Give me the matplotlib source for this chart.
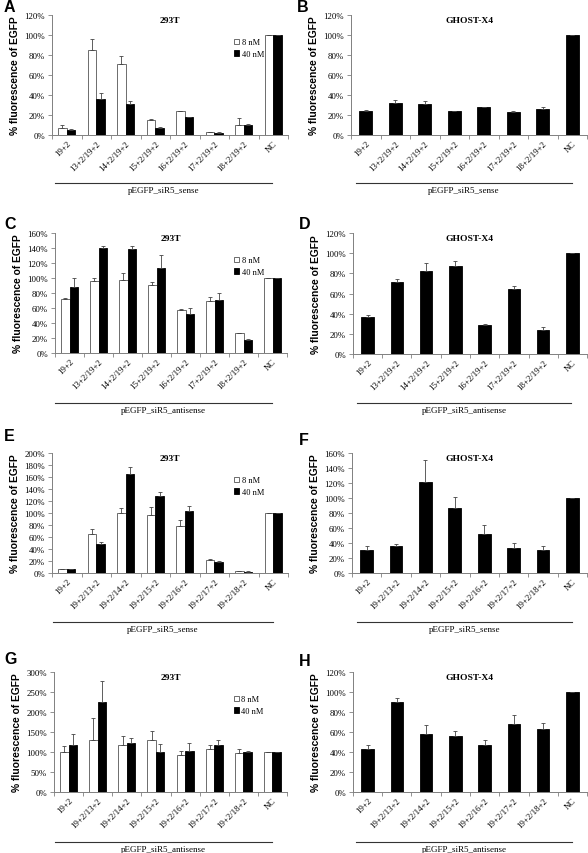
import numpy as np
import matplotlib
matplotlib.use("Agg")
import matplotlib.pyplot as plt
from matplotlib.ticker import FuncFormatter, MultipleLocator

# category labels
cats_sense = ["19+2", "13+2/19+2", "14+2/19+2", "15+2/19+2", "16+2/19+2",
              "17+2/19+2", "18+2/19+2", "NC"]
cats_anti = ["19+2", "19+2/13+2", "19+2/14+2", "19+2/15+2", "19+2/16+2",
             "19+2/17+2", "19+2/18+2", "NC"]

# A: 293T, pEGFP_siR5_sense
a_8 = [7, 85, 71, 15, 24, 3, 10, 100]
a_8_err = [3, 11, 8.5, 1.5, 0.5, 0.5, 7, 0]
a_40 = [5, 36.5, 31, 7, 18, 2.5, 10.5, 100]
a_40_err = [1.5, 5.5, 3.5, 1.5, 0.5, 0.3, 0.5, 0]

# B: GHOST-X4, pEGFP_siR5_sense
b_val = [24.5, 32.5, 31, 24.3, 28, 23.3, 26.3]
b_err = [1, 3, 3.5, 0, 0.5, 1, 1.5]

# C: 293T, pEGFP_siR5_antisense
c_8 = [72, 96, 97.8, 90.7, 57.8, 69.3, 26.2, 100]
c_8_err = [1.3, 3.6, 9, 4, 1, 5.4, 0.5, 0]
c_40 = [87.6, 139.6, 138.7, 114, 52.4, 71, 17.3, 100]
c_40_err = [12, 3, 4, 17, 7.6, 9, 1.4, 0]

# D: GHOST-X4, pEGFP_siR5_antisense
d_val = [36.4, 71.2, 82.5, 87, 28.8, 64, 23.8]
d_err = [2, 3, 7.5, 5.4, 1, 3, 3]

# E: 293T, pEGFP_siR5_sense (3' variants)
e_8 = [6, 65, 100, 96.7, 77.8, 21, 2.8, 100]
e_8_err = [0.5, 7.8, 7.8, 13.3, 10.5, 2.3, 0.5, 0]
e_40 = [6, 49, 165.6, 128.3, 103.3, 17.8, 2.2, 100]
e_40_err = [0.5, 2.7, 11, 6.7, 8.7, 2.8, 0.5, 0]

# F: GHOST-X4, pEGFP_siR5_sense (3' variants)
f_val = [30.7, 35.5, 121.3, 86.2, 52, 33.3, 30.7]
f_err = [4.8, 3.2, 29.4, 15.1, 11.5, 7.1, 5.3]

# G: 293T, pEGFP_siR5_antisense (3' variants)
g_8 = [100, 130, 118.3, 130, 91.7, 108.3, 96.7, 100]
g_8_err = [15, 55, 21.7, 22.5, 10, 10, 10, 0]
g_40 = [117.5, 225.8, 121.7, 100.8, 101.7, 118.3, 99.2, 100]
g_40_err = [28.3, 50.9, 14.1, 18.2, 21.6, 11.7, 4.1, 0]

# H: GHOST-X4, pEGFP_siR5_antisense (3' variants)
h_val = [43, 90.3, 58.3, 56, 47, 68, 63]
h_err = [4, 4, 8.7, 5, 5.3, 9, 6]

FIG_W, FIG_H = 588, 854
SERIF = ["Liberation Serif", "DejaVu Serif"]
SANS = ["Liberation Sans", "DejaVu Sans"]
AXIS_GRAY = "#808080"
TICK_FS = 6.3


def px_axes(fig, left, right, top, bottom):
    return fig.add_axes([left / FIG_W, 1 - bottom / FIG_H,
                         (right - left) / FIG_W, (bottom - top) / FIG_H])


def setup_axis(ax, cats, ymax, step):
    n = len(cats)
    ax.set_xlim(-0.5, n - 0.5)
    ax.set_ylim(0, ymax)
    ax.yaxis.set_major_locator(MultipleLocator(step))
    ax.yaxis.set_major_formatter(FuncFormatter(lambda v, p: f"{v:.0f}%"))
    ax.set_xticks(np.arange(n))
    ax.set_xticklabels(cats, rotation=45, ha="right", rotation_mode="anchor",
                       fontfamily=SERIF, fontsize=TICK_FS)
    ax.tick_params(axis="x", length=0, pad=3)
    # Excel style tick marks between categories
    ax.set_xticks(np.arange(n + 1) - 0.5, minor=True)
    ax.tick_params(axis="x", which="minor", length=3, color=AXIS_GRAY, width=0.6)
    ax.tick_params(axis="y", length=3, color=AXIS_GRAY, width=0.6, pad=2,
                   labelsize=TICK_FS)
    for lab in ax.get_yticklabels():
        lab.set_fontfamily(SERIF)
    for s in ["top", "right"]:
        ax.spines[s].set_visible(False)
    for s in ["left", "bottom"]:
        ax.spines[s].set_color(AXIS_GRAY)
        ax.spines[s].set_linewidth(0.7)
    ax.set_ylabel("% fluorescence of EGFP", fontfamily=SANS, fontweight="bold",
                  fontsize=7.4, labelpad=3)


def group_line(fig, x0, x1, y, text):
    fig.add_artist(plt.Line2D([x0 / FIG_W, x1 / FIG_W], [1 - y / FIG_H, 1 - y / FIG_H],
                              color="#333333", linewidth=0.8))
    fig.text((x0 + x1) / 2 / FIG_W, 1 - (y + 3) / FIG_H, text, ha="center", va="top",
             fontfamily=SERIF, fontsize=6.5)


def panel_letter(fig, letter, lpos):
    fig.text(lpos[0] / FIG_W, 1 - lpos[1] / FIG_H, letter, fontfamily=SANS,
             fontweight="bold", fontsize=11.5, va="top", ha="left")


def pair_panel(fig, box, cats, v8, e8, v40, e40, ymax, step, letter, lpos, line):
    ax = px_axes(fig, *box)
    x = np.arange(len(cats))
    w = 0.29
    ekw = dict(ecolor="#444444", elinewidth=0.6, capsize=1.5, capthick=0.6)
    ax.bar(x - w / 2, v8, w, color="white", edgecolor="#555555", linewidth=0.6,
           yerr=[np.zeros(len(e8)), e8], error_kw=ekw, label="8 nM")
    ax.bar(x + w / 2, v40, w, color="black", edgecolor="black", linewidth=0.6,
           yerr=[np.zeros(len(e40)), e40], error_kw=ekw, label="40 nM")
    setup_axis(ax, cats, ymax, step)
    ax.set_title("293T", fontfamily=SERIF, fontweight="bold", fontsize=6.8, pad=-5,
                 y=1.0)
    ax.legend(loc="upper left", bbox_to_anchor=(0.74, 0.87), frameon=False,
              prop={"family": SERIF, "size": 6}, handlelength=0.6,
              handleheight=0.6, handletextpad=0.3, labelspacing=0.45)
    panel_letter(fig, letter, lpos)
    group_line(fig, *line)
    return ax


def single_panel(fig, box, cats, vals, errs, ymax, step, letter, lpos, line):
    ax = px_axes(fig, *box)
    x = np.arange(len(cats))
    v = vals + [100]
    e = errs + [0]
    ax.bar(x, v, 0.43, color="black", edgecolor="black", linewidth=0.6,
           yerr=[np.zeros(len(e)), e],
           error_kw=dict(ecolor="#444444", elinewidth=0.6, capsize=1.5, capthick=0.6))
    setup_axis(ax, cats, ymax, step)
    ax.set_title("GHOST-X4", fontfamily=SERIF, fontweight="bold", fontsize=6.8,
                 pad=-5, y=1.0)
    panel_letter(fig, letter, lpos)
    group_line(fig, *line)
    return ax


fig = plt.figure(figsize=(FIG_W / 100, FIG_H / 100), dpi=100)

pair_panel(fig, (52, 288, 16, 136), cats_sense, a_8, a_8_err, a_40, a_40_err,
           120, 20, "A", (4, 0), (55, 272, 184, "pEGFP_siR5_sense"))
single_panel(fig, (351, 587, 16, 136), cats_sense, b_val, b_err, 120, 20,
             "B", (297, 0), (356, 572, 184, "pEGFP_siR5_sense"))

pair_panel(fig, (55, 287, 234, 354), cats_sense, c_8, c_8_err, c_40, c_40_err,
           160, 20, "C", (4, 217), (55, 272, 404, "pEGFP_siR5_antisense"))
single_panel(fig, (353, 587, 234, 355), cats_sense, d_val, d_err, 120, 20,
             "D", (299, 217), (357, 571, 404, "pEGFP_siR5_antisense"))

pair_panel(fig, (52, 288, 454, 574), cats_anti, e_8, e_8_err, e_40, e_40_err,
           200, 20, "E", (4, 429), (53, 273, 623, "pEGFP_siR5_sense"))
single_panel(fig, (352, 587, 454, 574), cats_anti, f_val, f_err, 160, 20,
             "F", (299, 433), (357, 572, 623, "pEGFP_siR5_sense"))

pair_panel(fig, (54, 287, 673, 793), cats_anti, g_8, g_8_err, g_40, g_40_err,
           300, 50, "G", (4, 652), (55, 272, 843, "pEGFP_siR5_antisense"))
single_panel(fig, (353, 587, 673, 793), cats_anti, h_val, h_err, 120, 20,
             "H", (299, 654), (356, 572, 843, "pEGFP_siR5_antisense"))

fig.savefig("out.png", dpi=100)
